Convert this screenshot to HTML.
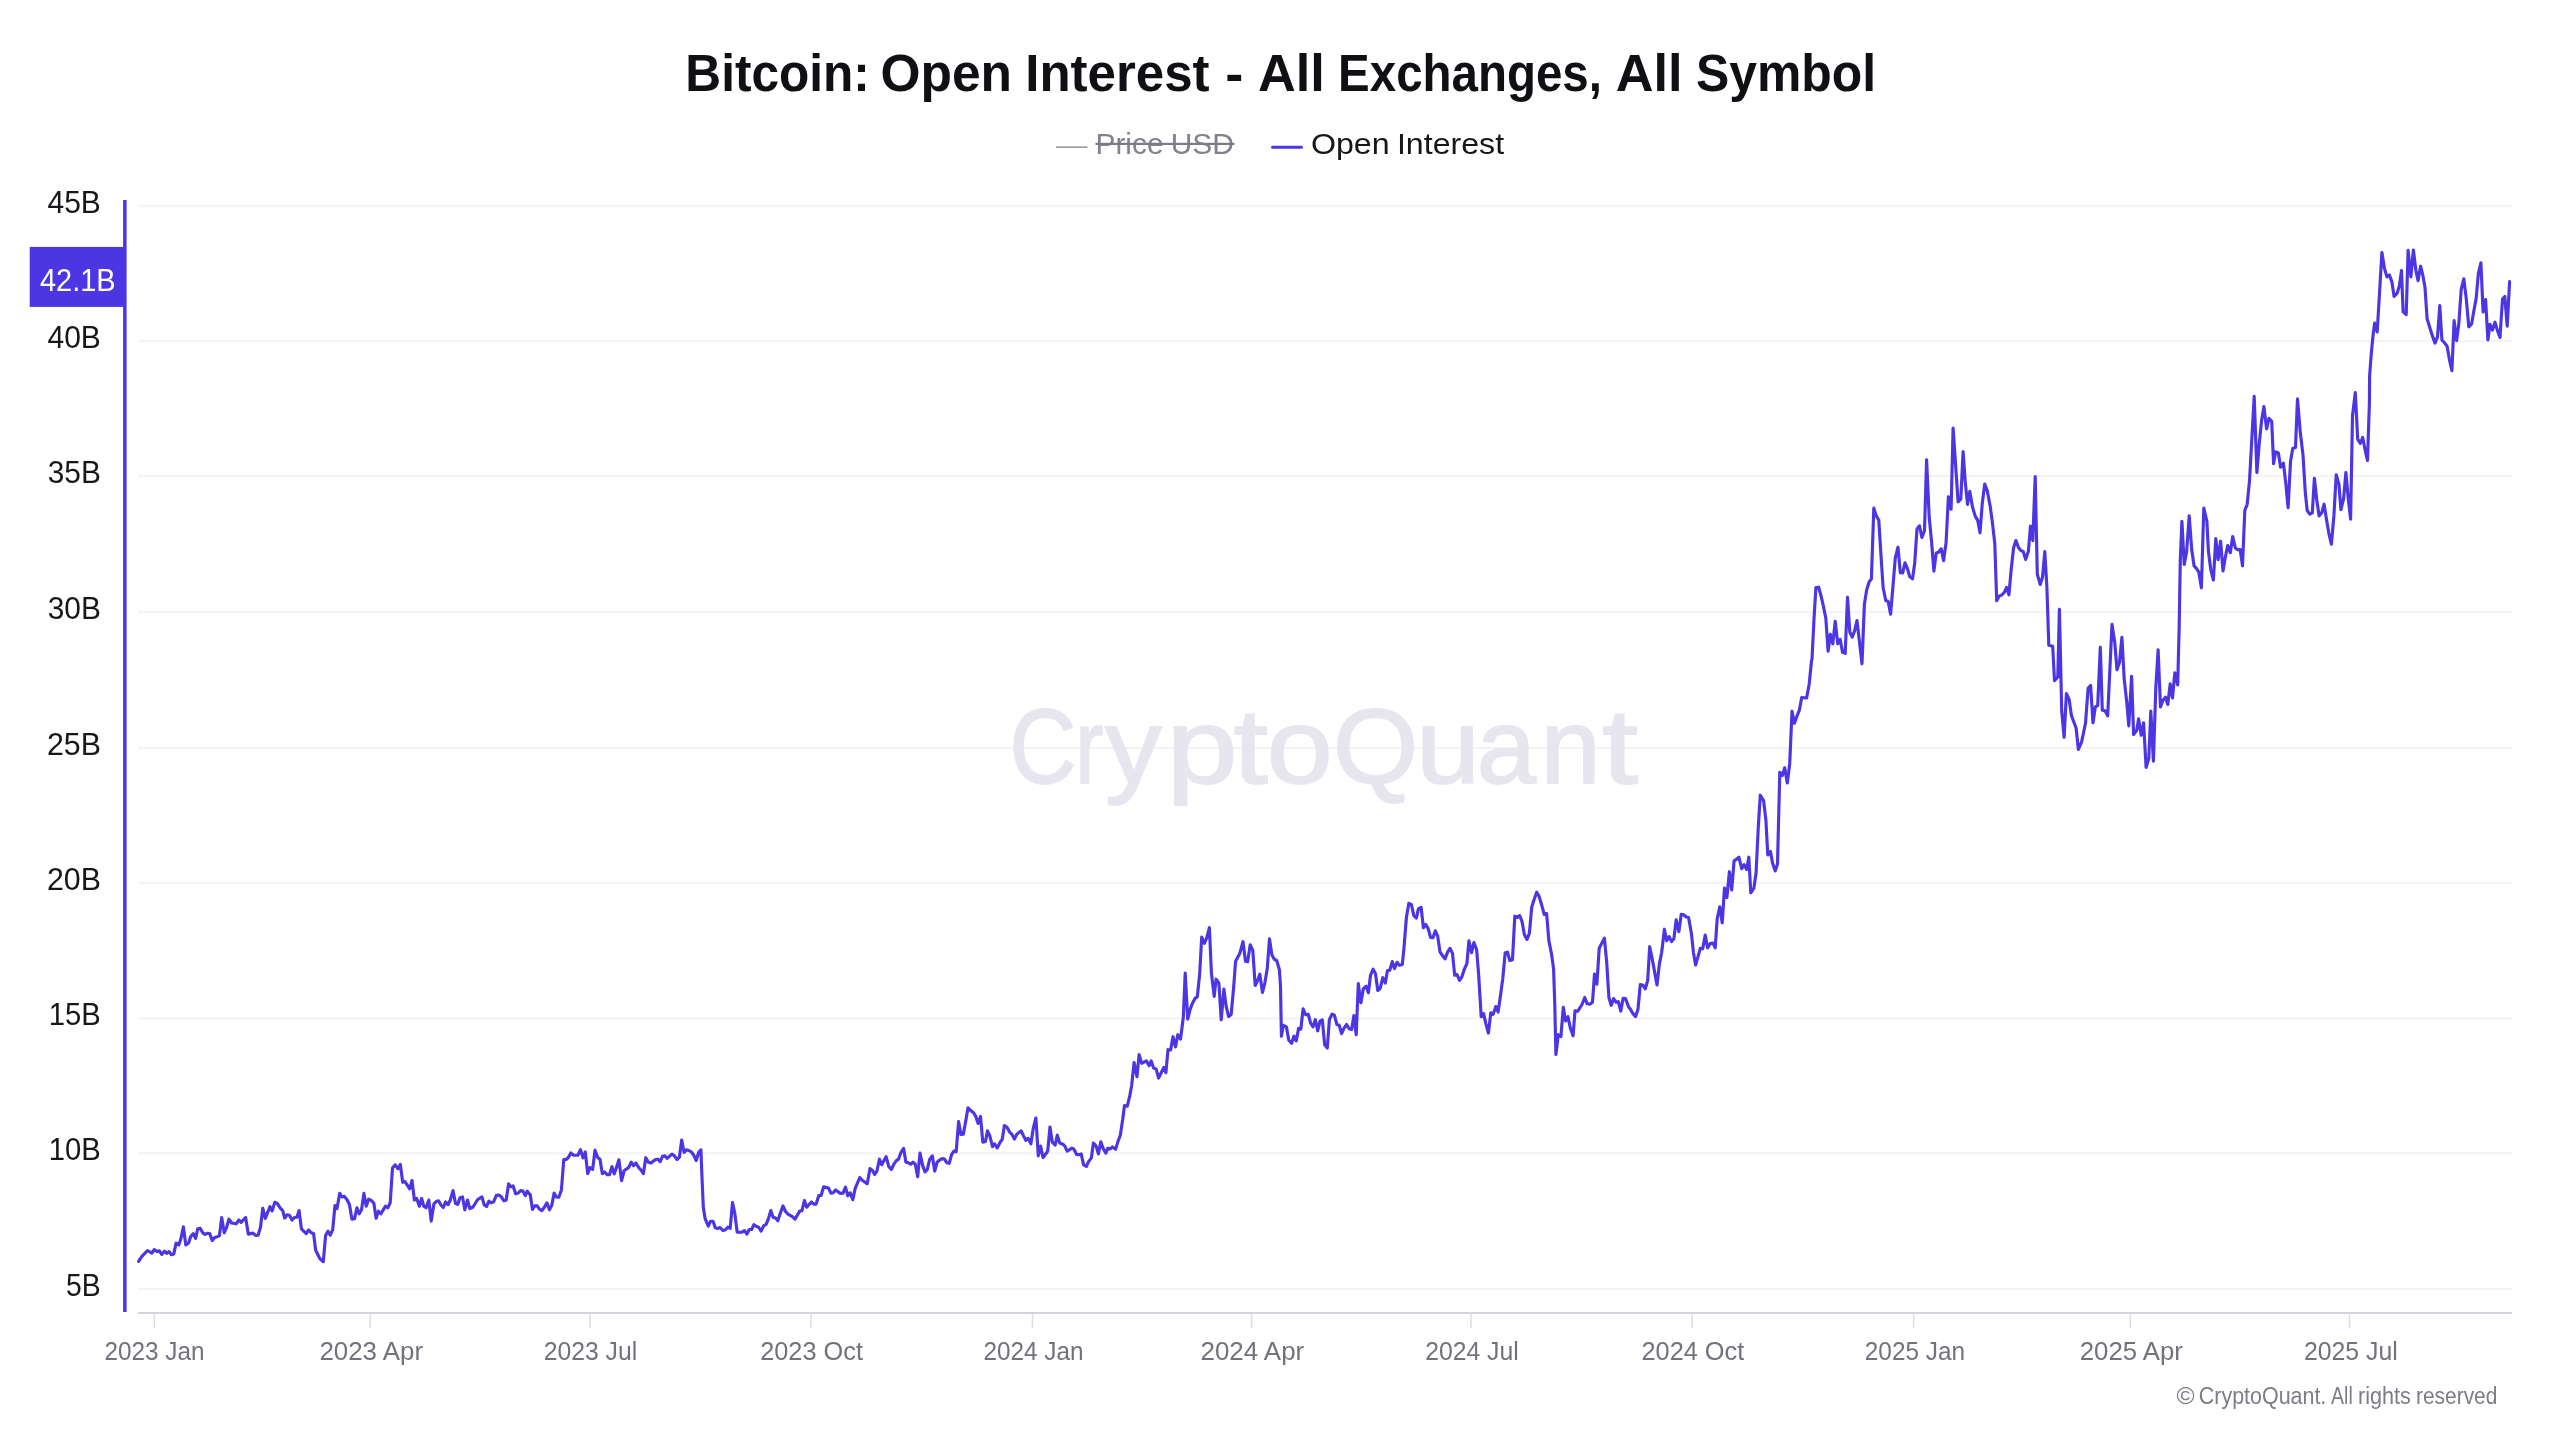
<!DOCTYPE html>
<html lang="en"><head><meta charset="utf-8"><title>Bitcoin: Open Interest - All Exchanges, All Symbol</title>
<style>html,body{margin:0;padding:0;background:#fff;}body{width:2560px;height:1440px;overflow:hidden;}svg{display:block;will-change:transform;}text{font-family:"Liberation Sans",sans-serif;}</style></head><body>
<svg width="2560" height="1440" viewBox="0 0 2560 1440">
<rect width="2560" height="1440" fill="#ffffff"/>
<rect x="138" y="204.80" width="2374" height="2" fill="#f3f3f7"/>
<rect x="138" y="340.30" width="2374" height="2" fill="#f3f3f7"/>
<rect x="138" y="475.00" width="2374" height="2" fill="#f3f3f7"/>
<rect x="138" y="611.00" width="2374" height="2" fill="#f3f3f7"/>
<rect x="138" y="747.00" width="2374" height="2" fill="#f3f3f7"/>
<rect x="138" y="881.70" width="2374" height="2" fill="#f3f3f7"/>
<rect x="138" y="1017.40" width="2374" height="2" fill="#f3f3f7"/>
<rect x="138" y="1152.30" width="2374" height="2" fill="#f3f3f7"/>
<rect x="138" y="1288.10" width="2374" height="2" fill="#f3f3f7"/>
<text y="782.5" font-size="106" fill="#e7e6ef" stroke="#e7e6ef" stroke-width="1.8" stroke-linejoin="round"><tspan x="1009.5" textLength="66.9" lengthAdjust="spacingAndGlyphs">C</tspan><tspan x="1075.3" textLength="28.2" lengthAdjust="spacingAndGlyphs">r</tspan><tspan x="1105.1" textLength="56.6" lengthAdjust="spacingAndGlyphs">y</tspan><tspan x="1166.6" textLength="71.1" lengthAdjust="spacingAndGlyphs">p</tspan><tspan x="1233.6" textLength="34.3" lengthAdjust="spacingAndGlyphs">t</tspan><tspan x="1266.7" textLength="66.0" lengthAdjust="spacingAndGlyphs">o</tspan><tspan x="1333.0" textLength="85.2" lengthAdjust="spacingAndGlyphs">Q</tspan><tspan x="1416.0" textLength="63.9" lengthAdjust="spacingAndGlyphs">u</tspan><tspan x="1476.8" textLength="59.1" lengthAdjust="spacingAndGlyphs">a</tspan><tspan x="1540.6" textLength="60.1" lengthAdjust="spacingAndGlyphs">n</tspan><tspan x="1602.2" textLength="35.8" lengthAdjust="spacingAndGlyphs">t</tspan></text>
<rect x="138" y="1312" width="2374" height="2" fill="#d3d2e1"/>
<rect x="153.60" y="1314" width="1.5" height="14" fill="#dcdce6"/>
<text x="154.54" y="1360.20" font-size="26.6" fill="#72727c" text-anchor="middle" textLength="100.11" lengthAdjust="spacingAndGlyphs">2023 Jan</text>
<rect x="369.40" y="1314" width="1.5" height="14" fill="#dcdce6"/>
<text x="371.24" y="1360.20" font-size="26.6" fill="#72727c" text-anchor="middle" textLength="103.66" lengthAdjust="spacingAndGlyphs">2023 Apr</text>
<rect x="589.20" y="1314" width="1.5" height="14" fill="#dcdce6"/>
<text x="590.46" y="1360.20" font-size="26.6" fill="#72727c" text-anchor="middle" textLength="93.59" lengthAdjust="spacingAndGlyphs">2023 Jul</text>
<rect x="810.20" y="1314" width="1.5" height="14" fill="#dcdce6"/>
<text x="811.56" y="1360.20" font-size="26.6" fill="#72727c" text-anchor="middle" textLength="102.74" lengthAdjust="spacingAndGlyphs">2023 Oct</text>
<rect x="1031.70" y="1314" width="1.5" height="14" fill="#dcdce6"/>
<text x="1033.44" y="1360.20" font-size="26.6" fill="#72727c" text-anchor="middle" textLength="100.11" lengthAdjust="spacingAndGlyphs">2024 Jan</text>
<rect x="1250.90" y="1314" width="1.5" height="14" fill="#dcdce6"/>
<text x="1252.34" y="1360.20" font-size="26.6" fill="#72727c" text-anchor="middle" textLength="103.66" lengthAdjust="spacingAndGlyphs">2024 Apr</text>
<rect x="1470.20" y="1314" width="1.5" height="14" fill="#dcdce6"/>
<text x="1471.96" y="1360.20" font-size="26.6" fill="#72727c" text-anchor="middle" textLength="93.59" lengthAdjust="spacingAndGlyphs">2024 Jul</text>
<rect x="1691.50" y="1314" width="1.5" height="14" fill="#dcdce6"/>
<text x="1692.86" y="1360.20" font-size="26.6" fill="#72727c" text-anchor="middle" textLength="102.74" lengthAdjust="spacingAndGlyphs">2024 Oct</text>
<rect x="1912.90" y="1314" width="1.5" height="14" fill="#dcdce6"/>
<text x="1914.94" y="1360.20" font-size="26.6" fill="#72727c" text-anchor="middle" textLength="100.21" lengthAdjust="spacingAndGlyphs">2025 Jan</text>
<rect x="2129.50" y="1314" width="1.5" height="14" fill="#dcdce6"/>
<text x="2131.34" y="1360.20" font-size="26.6" fill="#72727c" text-anchor="middle" textLength="103.16" lengthAdjust="spacingAndGlyphs">2025 Apr</text>
<rect x="2348.80" y="1314" width="1.5" height="14" fill="#dcdce6"/>
<text x="2350.86" y="1360.20" font-size="26.6" fill="#72727c" text-anchor="middle" textLength="93.79" lengthAdjust="spacingAndGlyphs">2025 Jul</text>
<rect x="123.1" y="200" width="3.5" height="1112" fill="#4c35e2"/>
<text x="100.86" y="212.80" font-size="32.1" fill="#17171b" text-anchor="end" textLength="53.40" lengthAdjust="spacingAndGlyphs">45B</text>
<text x="100.86" y="348.30" font-size="32.1" fill="#17171b" text-anchor="end" textLength="53.40" lengthAdjust="spacingAndGlyphs">40B</text>
<text x="100.88" y="483.00" font-size="32.1" fill="#17171b" text-anchor="end" textLength="53.12" lengthAdjust="spacingAndGlyphs">35B</text>
<text x="100.88" y="619.00" font-size="32.1" fill="#17171b" text-anchor="end" textLength="53.12" lengthAdjust="spacingAndGlyphs">30B</text>
<text x="100.88" y="755.00" font-size="32.1" fill="#17171b" text-anchor="end" textLength="53.96" lengthAdjust="spacingAndGlyphs">25B</text>
<text x="100.88" y="889.70" font-size="32.1" fill="#17171b" text-anchor="end" textLength="53.96" lengthAdjust="spacingAndGlyphs">20B</text>
<text x="100.79" y="1025.40" font-size="32.1" fill="#17171b" text-anchor="end" textLength="52.01" lengthAdjust="spacingAndGlyphs">15B</text>
<text x="100.64" y="1160.30" font-size="32.1" fill="#17171b" text-anchor="end" textLength="52.01" lengthAdjust="spacingAndGlyphs">10B</text>
<text x="100.67" y="1296.10" font-size="32.1" fill="#17171b" text-anchor="end" textLength="34.66" lengthAdjust="spacingAndGlyphs">5B</text>
<rect x="29.7" y="246.9" width="95" height="60" fill="#4c35e2"/>
<text x="77.80" y="290.60" font-size="32.1" fill="#ffffff" text-anchor="middle" textLength="75.60" lengthAdjust="spacingAndGlyphs">42.1B</text>
<text y="91.30" font-size="51" fill="#101014" font-weight="700"><tspan x="685.33" textLength="184.56" lengthAdjust="spacingAndGlyphs">Bitcoin:</tspan> <tspan x="880.48" textLength="131.50" lengthAdjust="spacingAndGlyphs">Open</tspan> <tspan x="1025.31" textLength="184.21" lengthAdjust="spacingAndGlyphs">Interest</tspan> <tspan x="1225.34" textLength="18.07" lengthAdjust="spacingAndGlyphs">-</tspan> <tspan x="1257.99" textLength="66.86" lengthAdjust="spacingAndGlyphs">All</tspan> <tspan x="1338.09" textLength="263.88" lengthAdjust="spacingAndGlyphs">Exchanges,</tspan> <tspan x="1615.65" textLength="66.78" lengthAdjust="spacingAndGlyphs">All</tspan> <tspan x="1695.94" textLength="180.07" lengthAdjust="spacingAndGlyphs">Symbol</tspan></text>
<rect x="1056" y="146.4" width="31.5" height="1.5" fill="#93939c"/>
<text y="154.30" font-size="29.8" fill="#82828c"><tspan x="1095.51" textLength="67.98" lengthAdjust="spacingAndGlyphs">Price</tspan> <tspan x="1170.67" textLength="63.29" lengthAdjust="spacingAndGlyphs">USD</tspan></text>
<rect x="1095.5" y="142.8" width="139" height="2.2" fill="#7b7b85"/>
<rect x="1271" y="145.7" width="32" height="3" rx="1.5" fill="#4c35e2"/>
<text y="154.30" font-size="29.8" fill="#17171b"><tspan x="1310.93" textLength="78.71" lengthAdjust="spacingAndGlyphs">Open</tspan> <tspan x="1396.92" textLength="107.21" lengthAdjust="spacingAndGlyphs">Interest</tspan></text>
<text y="1403.60" font-size="23.1" fill="#7c7c86"><tspan x="2176.57" textLength="18.13" lengthAdjust="spacingAndGlyphs">©</tspan> <tspan x="2198.81" textLength="127.54" lengthAdjust="spacingAndGlyphs">CryptoQuant.</tspan> <tspan x="2331.04" textLength="21.70" lengthAdjust="spacingAndGlyphs">All</tspan> <tspan x="2358.08" textLength="52.85" lengthAdjust="spacingAndGlyphs">rights</tspan> <tspan x="2415.97" textLength="81.44" lengthAdjust="spacingAndGlyphs">reserved</tspan></text>
<path d="M138.6,1261.4 L141.7,1256.7 L147.5,1250.5 L151.9,1253.1 L154.2,1249.7 L157.3,1251.6 L159.4,1250.8 L161.7,1254.4 L164.4,1251.2 L166.7,1253.4 L169.1,1251.6 L171.4,1254.7 L173.8,1253.9 L176.1,1243.0 L178.8,1245.0 L180.8,1239.1 L183.4,1226.9 L185.8,1245.0 L188.6,1243.0 L190.6,1236.7 L193.3,1233.6 L195.6,1238.3 L197.7,1228.9 L200.3,1228.4 L202.7,1232.8 L205.0,1234.4 L207.3,1233.3 L209.7,1233.6 L212.3,1240.6 L214.4,1237.8 L219.4,1235.9 L221.7,1217.5 L224.2,1232.8 L226.6,1227.3 L228.9,1219.2 L231.6,1223.0 L236.2,1223.8 L238.9,1220.0 L241.2,1222.3 L245.6,1217.5 L248.3,1234.1 L253.0,1233.1 L255.8,1235.5 L258.1,1235.2 L260.5,1227.3 L262.8,1208.3 L265.3,1218.4 L267.5,1212.8 L270.0,1206.7 L272.2,1210.9 L274.8,1202.3 L277.2,1203.4 L280.3,1208.1 L282.7,1210.6 L284.7,1218.0 L287.0,1214.8 L289.4,1215.2 L292.0,1220.0 L294.4,1217.5 L296.9,1217.2 L299.1,1210.6 L301.4,1228.9 L306.2,1233.6 L308.6,1230.0 L310.9,1232.5 L313.6,1233.6 L315.6,1250.0 L319.8,1258.6 L323.3,1261.7 L325.6,1235.6 L328.0,1231.2 L330.3,1235.2 L332.7,1229.7 L335.0,1205.5 L337.0,1208.6 L339.7,1193.3 L342.0,1196.9 L344.4,1196.4 L347.2,1200.0 L349.5,1204.7 L351.9,1219.1 L354.5,1218.8 L356.9,1207.8 L359.2,1213.8 L361.6,1209.4 L363.9,1193.4 L366.2,1206.2 L368.6,1199.2 L371.4,1200.5 L373.8,1203.1 L376.1,1218.3 L378.4,1211.2 L380.8,1213.8 L385.5,1206.2 L387.8,1207.8 L390.2,1202.8 L392.5,1168.0 L395.2,1164.8 L398.0,1168.8 L400.3,1164.4 L402.7,1182.3 L405.0,1181.6 L409.7,1188.8 L412.0,1180.5 L414.4,1200.0 L416.7,1198.4 L419.4,1206.2 L421.6,1198.4 L423.8,1206.2 L426.1,1207.8 L428.8,1200.0 L431.2,1221.1 L433.9,1203.9 L436.2,1201.6 L438.6,1200.8 L440.9,1205.0 L443.3,1207.5 L445.6,1201.9 L448.0,1204.7 L450.3,1200.0 L453.0,1190.6 L455.5,1203.4 L457.7,1204.4 L460.0,1197.7 L462.5,1196.9 L464.8,1209.8 L467.5,1200.0 L469.8,1208.6 L473.0,1207.0 L477.7,1199.5 L481.9,1196.9 L484.2,1204.7 L486.6,1206.6 L488.9,1201.2 L491.2,1202.8 L493.6,1201.9 L496.4,1195.3 L498.8,1195.0 L501.1,1196.6 L503.9,1200.8 L506.2,1200.0 L508.6,1183.9 L510.8,1186.7 L513.1,1185.9 L515.6,1193.8 L518.3,1193.0 L520.6,1190.6 L523.0,1191.1 L525.3,1195.6 L527.3,1191.1 L529.2,1193.8 L530.2,1194.4 L532.5,1209.5 L534.8,1205.9 L537.2,1205.9 L539.5,1209.1 L541.9,1210.6 L544.2,1207.5 L546.9,1202.8 L549.4,1209.8 L551.7,1205.6 L554.1,1193.1 L556.4,1197.0 L558.8,1197.3 L561.4,1190.0 L563.8,1159.5 L566.1,1159.5 L568.4,1157.5 L570.8,1153.0 L573.6,1155.2 L577.8,1155.2 L580.5,1149.7 L583.0,1158.0 L585.3,1152.0 L587.7,1173.6 L590.0,1167.7 L592.7,1169.4 L595.0,1150.2 L597.7,1157.5 L600.0,1159.2 L602.3,1173.6 L604.7,1172.0 L607.2,1174.7 L609.5,1174.7 L611.9,1166.6 L614.2,1173.9 L616.6,1166.9 L618.9,1159.8 L621.6,1180.6 L624.2,1170.5 L628.6,1167.7 L631.2,1162.2 L633.6,1165.8 L635.9,1163.0 L638.8,1167.7 L641.1,1170.2 L643.4,1173.6 L645.8,1157.7 L648.4,1162.3 L650.9,1163.1 L655.6,1159.5 L658.0,1159.2 L660.2,1161.6 L662.5,1156.4 L664.8,1155.9 L667.2,1158.3 L671.9,1154.1 L674.2,1155.6 L677.0,1159.5 L679.4,1157.2 L681.7,1140.0 L684.1,1152.5 L686.4,1149.8 L688.8,1150.5 L691.4,1152.0 L693.8,1155.2 L696.2,1160.6 L698.6,1152.5 L700.9,1149.8 L702.0,1177.5 L703.3,1207.2 L705.2,1218.9 L708.3,1226.2 L710.6,1221.2 L713.0,1221.2 L715.3,1227.8 L717.7,1228.6 L720.0,1227.5 L723.1,1230.6 L725.5,1229.8 L727.8,1227.2 L730.2,1228.3 L732.5,1202.5 L734.8,1213.4 L737.2,1232.2 L741.9,1232.2 L744.5,1230.6 L746.9,1234.1 L749.2,1229.5 L751.6,1229.5 L753.9,1224.7 L756.2,1226.2 L758.8,1227.5 L761.1,1231.1 L763.8,1225.6 L766.1,1224.4 L768.4,1218.9 L770.8,1210.6 L773.1,1217.3 L775.5,1218.1 L777.8,1220.8 L780.5,1212.7 L783.0,1205.9 L785.3,1211.1 L788.0,1214.2 L792.7,1216.9 L795.0,1219.2 L799.7,1211.1 L802.0,1210.6 L804.4,1200.5 L806.7,1207.2 L811.4,1202.0 L813.8,1204.1 L816.1,1204.1 L818.8,1195.5 L821.1,1195.5 L823.6,1186.9 L828.6,1188.1 L830.9,1193.1 L833.3,1192.8 L835.6,1190.0 L840.3,1193.4 L843.0,1193.1 L845.5,1187.2 L847.8,1195.8 L850.2,1192.8 L852.8,1199.7 L855.2,1188.4 L859.8,1177.5 L862.2,1180.2 L867.2,1183.8 L870.0,1168.6 L872.3,1170.2 L874.7,1174.4 L877.0,1170.8 L879.4,1159.2 L881.7,1164.7 L886.1,1156.7 L888.8,1166.6 L891.4,1169.4 L893.9,1164.2 L896.6,1160.3 L898.6,1159.1 L900.9,1152.5 L903.6,1148.3 L905.9,1162.2 L908.3,1162.7 L910.6,1164.2 L913.0,1162.2 L915.3,1164.2 L917.7,1176.7 L920.0,1153.1 L922.7,1165.6 L925.0,1171.9 L927.3,1169.5 L929.7,1159.4 L932.3,1155.8 L934.7,1171.1 L937.0,1162.5 L939.4,1160.2 L942.2,1158.6 L944.5,1159.1 L946.9,1162.8 L949.2,1163.3 L951.6,1154.7 L953.9,1151.1 L956.2,1151.6 L958.6,1121.6 L960.9,1134.4 L963.3,1134.1 L965.6,1121.9 L968.0,1107.8 L971.1,1110.9 L973.4,1112.5 L975.8,1116.4 L978.1,1123.4 L980.5,1116.4 L982.8,1142.2 L985.5,1141.4 L987.5,1130.9 L989.8,1135.9 L992.5,1146.6 L994.5,1143.8 L997.2,1148.0 L1000.0,1142.5 L1002.3,1139.1 L1004.4,1125.5 L1007.0,1127.3 L1009.8,1132.3 L1011.7,1134.1 L1014.4,1139.1 L1016.7,1134.4 L1021.1,1130.8 L1023.4,1135.6 L1025.8,1140.3 L1028.1,1138.3 L1030.9,1143.8 L1033.3,1128.1 L1035.9,1118.0 L1038.3,1155.9 L1040.6,1146.1 L1043.0,1157.5 L1047.7,1151.2 L1050.0,1127.0 L1052.3,1142.2 L1055.2,1145.0 L1057.3,1135.2 L1059.7,1143.0 L1063.3,1144.5 L1064.8,1146.1 L1067.2,1151.2 L1071.9,1148.1 L1073.9,1149.2 L1076.6,1154.4 L1078.9,1154.7 L1081.2,1153.9 L1083.6,1164.8 L1086.4,1166.4 L1088.6,1161.7 L1091.4,1157.8 L1093.4,1143.0 L1096.1,1146.1 L1098.4,1153.9 L1100.8,1141.9 L1103.1,1148.4 L1105.9,1153.1 L1107.8,1148.4 L1110.2,1148.9 L1112.5,1146.9 L1115.6,1149.2 L1118.0,1141.4 L1120.3,1135.2 L1122.7,1119.5 L1124.5,1105.5 L1127.3,1106.2 L1129.7,1096.1 L1131.7,1085.2 L1134.1,1062.5 L1137.0,1076.6 L1139.1,1054.7 L1141.7,1063.3 L1146.4,1060.9 L1149.2,1065.6 L1151.2,1060.9 L1153.6,1068.0 L1156.2,1069.1 L1158.6,1078.1 L1161.2,1072.7 L1163.8,1067.5 L1165.9,1072.7 L1168.0,1049.7 L1170.6,1050.0 L1173.0,1036.7 L1175.5,1046.9 L1177.8,1034.7 L1180.5,1039.1 L1181.7,1030.0 L1183.3,1017.5 L1185.2,973.0 L1187.7,1019.1 L1190.3,1008.9 L1192.7,1002.7 L1195.0,998.4 L1197.3,996.9 L1199.7,973.8 L1201.7,937.0 L1204.4,943.3 L1206.7,937.8 L1209.4,927.7 L1211.4,973.0 L1214.2,996.4 L1216.1,979.2 L1218.9,983.1 L1221.2,1019.8 L1223.9,989.1 L1226.2,1006.6 L1228.6,1016.4 L1231.2,1014.4 L1233.6,987.8 L1235.6,961.2 L1239.8,953.4 L1243.0,941.7 L1245.5,961.2 L1247.7,961.6 L1250.2,944.8 L1252.8,950.3 L1255.2,985.5 L1257.5,980.8 L1259.8,974.2 L1262.5,992.5 L1264.8,983.1 L1267.2,969.1 L1269.5,938.9 L1271.9,955.0 L1274.4,959.4 L1276.7,960.5 L1279.4,969.8 L1280.5,986.2 L1281.4,1036.2 L1283.3,1025.3 L1286.4,1026.9 L1288.8,1040.2 L1291.6,1043.3 L1293.9,1036.2 L1296.2,1040.9 L1298.6,1028.4 L1300.8,1029.2 L1303.1,1008.9 L1305.6,1014.7 L1308.3,1014.4 L1310.6,1023.0 L1313.0,1026.9 L1315.3,1019.5 L1317.7,1030.8 L1320.0,1021.1 L1322.3,1019.8 L1324.7,1044.8 L1327.3,1048.0 L1329.4,1019.5 L1332.0,1014.1 L1334.4,1015.2 L1336.9,1024.5 L1339.2,1025.3 L1341.6,1033.6 L1343.9,1028.4 L1346.6,1024.5 L1349.2,1028.8 L1351.6,1029.5 L1353.9,1015.6 L1356.2,1034.7 L1358.3,983.6 L1360.9,1002.7 L1363.4,988.6 L1366.1,986.2 L1368.4,992.8 L1370.5,975.3 L1373.1,969.1 L1375.5,973.8 L1377.8,990.5 L1380.2,988.3 L1382.8,977.7 L1385.3,983.1 L1387.5,970.6 L1389.8,970.3 L1392.2,961.6 L1394.5,968.6 L1397.0,962.3 L1399.4,965.2 L1402.3,964.4 L1403.9,948.8 L1406.4,917.5 L1408.8,903.4 L1411.4,904.5 L1413.8,915.6 L1416.4,918.0 L1418.4,908.9 L1421.1,907.3 L1423.4,927.7 L1425.8,924.5 L1428.1,928.4 L1430.6,937.5 L1433.0,937.8 L1435.3,930.8 L1437.7,936.2 L1440.0,951.9 L1442.7,955.8 L1445.0,958.9 L1447.7,951.9 L1450.0,948.3 L1452.5,953.4 L1454.7,975.3 L1457.0,974.5 L1459.5,980.3 L1461.9,976.9 L1464.2,969.5 L1466.9,963.6 L1468.9,940.9 L1471.6,952.7 L1473.9,942.5 L1476.6,949.5 L1478.6,973.8 L1481.2,1016.7 L1483.6,1013.6 L1485.9,1023.8 L1488.4,1033.1 L1490.8,1012.8 L1493.1,1014.4 L1495.8,1006.6 L1498.1,1012.0 L1500.5,995.6 L1502.8,978.4 L1505.2,952.7 L1507.5,952.2 L1509.8,960.5 L1512.5,959.7 L1514.8,916.2 L1517.2,917.5 L1519.7,915.6 L1522.0,921.4 L1524.4,934.7 L1527.0,939.4 L1529.4,933.1 L1531.7,907.3 L1534.1,899.5 L1536.7,892.2 L1539.1,896.4 L1541.9,905.8 L1544.2,914.4 L1546.6,913.6 L1548.9,940.9 L1551.7,955.0 L1553.6,969.1 L1554.8,1005.0 L1555.9,1054.5 L1558.3,1034.7 L1560.9,1036.6 L1563.3,1007.3 L1565.6,1020.9 L1568.0,1016.7 L1570.3,1028.0 L1573.1,1035.8 L1575.0,1010.8 L1577.8,1011.2 L1582.0,1004.5 L1584.7,997.5 L1587.2,1003.8 L1589.8,1004.1 L1592.5,1002.2 L1594.5,974.1 L1596.9,984.2 L1599.2,948.3 L1604.4,938.1 L1606.7,962.3 L1608.9,997.5 L1611.2,1005.3 L1613.6,998.6 L1615.9,1002.2 L1618.3,1001.7 L1620.8,1011.1 L1623.1,998.3 L1625.5,998.6 L1628.6,1006.9 L1630.5,1009.2 L1632.8,1013.4 L1635.6,1016.6 L1638.0,1009.2 L1640.3,984.5 L1643.0,985.3 L1645.3,988.9 L1647.7,980.3 L1649.7,946.7 L1652.0,957.7 L1657.0,985.0 L1659.4,963.9 L1661.7,952.2 L1664.4,929.2 L1666.7,940.8 L1669.1,936.6 L1671.6,941.6 L1673.9,938.6 L1676.2,919.8 L1678.9,931.6 L1681.2,914.4 L1683.6,914.7 L1686.2,917.0 L1688.6,917.5 L1691.4,933.4 L1693.4,952.2 L1695.6,965.0 L1698.0,956.6 L1700.3,948.3 L1702.7,948.8 L1705.2,935.0 L1707.5,947.8 L1710.2,943.6 L1713.0,943.1 L1715.2,947.8 L1717.2,918.6 L1719.8,906.9 L1722.2,922.8 L1724.5,888.1 L1726.9,897.5 L1729.4,871.7 L1731.7,890.0 L1734.1,860.8 L1736.6,859.2 L1738.9,857.2 L1741.7,868.6 L1744.1,864.7 L1746.7,869.4 L1748.8,857.2 L1750.8,892.8 L1753.9,888.1 L1756.1,872.5 L1758.4,824.8 L1760.3,795.2 L1763.6,800.6 L1765.9,820.2 L1767.8,855.0 L1770.5,851.4 L1772.5,863.1 L1775.2,870.9 L1777.5,863.9 L1779.8,772.2 L1782.3,775.6 L1784.7,767.8 L1787.3,783.0 L1789.7,763.9 L1792.0,711.2 L1794.4,723.3 L1797.2,715.5 L1799.4,710.0 L1801.7,697.5 L1806.6,698.0 L1809.2,684.2 L1811.6,660.0 L1812.0,659.4 L1814.1,617.2 L1815.9,587.5 L1818.6,587.2 L1820.9,595.3 L1823.4,606.2 L1825.8,618.0 L1828.1,651.2 L1830.3,634.4 L1832.8,643.8 L1835.2,621.4 L1837.8,643.8 L1840.2,639.5 L1842.5,652.3 L1845.2,653.4 L1847.5,597.2 L1849.8,632.0 L1852.2,637.2 L1854.5,631.2 L1857.0,620.6 L1859.4,641.4 L1862.0,663.8 L1864.4,603.9 L1866.7,589.8 L1869.1,582.0 L1871.4,578.9 L1873.8,508.1 L1876.1,515.6 L1878.8,520.3 L1880.8,552.3 L1883.1,587.5 L1885.8,600.8 L1888.1,601.2 L1890.6,614.1 L1893.0,585.9 L1895.3,557.8 L1898.0,547.2 L1900.3,572.7 L1902.7,573.0 L1905.0,562.8 L1907.3,568.3 L1909.7,576.6 L1912.5,578.9 L1914.7,563.3 L1917.0,528.9 L1919.5,525.8 L1921.9,537.5 L1924.5,530.8 L1926.6,459.7 L1929.2,517.2 L1931.6,542.2 L1933.9,571.1 L1936.2,553.1 L1938.6,552.3 L1941.2,548.8 L1943.6,560.6 L1946.1,542.2 L1948.4,496.9 L1951.1,509.1 L1953.1,428.1 L1958.1,501.9 L1960.8,499.2 L1963.1,451.6 L1965.2,481.2 L1967.5,504.4 L1969.8,491.4 L1972.5,507.0 L1975.3,516.4 L1977.7,520.3 L1980.0,532.8 L1982.3,503.1 L1984.7,484.1 L1987.3,490.9 L1990.2,506.2 L1992.5,523.4 L1994.8,543.8 L1996.7,600.8 L1999.2,596.1 L2001.9,594.8 L2004.2,592.5 L2006.6,587.5 L2008.9,594.8 L2011.2,569.5 L2013.6,547.7 L2015.9,540.6 L2018.6,547.7 L2021.1,550.8 L2023.3,551.6 L2025.6,559.4 L2028.4,551.2 L2030.5,526.1 L2032.8,540.6 L2035.2,476.6 L2037.3,574.2 L2040.2,584.4 L2042.5,577.3 L2044.8,551.6 L2046.9,587.5 L2048.8,645.2 L2052.7,646.2 L2054.5,680.6 L2057.8,677.2 L2059.4,609.2 L2061.7,710.8 L2064.1,737.3 L2066.4,693.6 L2069.1,699.1 L2071.4,715.5 L2076.1,728.0 L2078.4,749.5 L2081.6,742.0 L2085.5,723.3 L2088.1,688.4 L2090.6,685.5 L2093.0,722.8 L2095.3,706.9 L2097.7,705.6 L2100.3,647.2 L2102.3,710.3 L2105.0,710.8 L2107.7,715.8 L2112.0,624.4 L2114.8,642.8 L2117.0,669.8 L2119.5,662.3 L2121.9,637.3 L2124.2,678.8 L2126.6,700.6 L2128.8,725.9 L2131.6,676.4 L2133.6,734.5 L2136.7,730.3 L2138.6,718.9 L2141.2,735.3 L2143.6,722.8 L2146.1,767.5 L2148.8,758.4 L2150.8,711.1 L2153.4,761.2 L2155.8,688.1 L2158.1,649.8 L2160.5,706.9 L2162.8,700.6 L2165.5,697.2 L2167.8,704.5 L2170.2,683.9 L2172.5,698.0 L2174.8,672.8 L2177.7,685.0 L2179.2,625.6 L2180.3,560.0 L2181.9,521.4 L2184.2,564.4 L2186.6,551.9 L2189.2,515.9 L2191.7,549.5 L2194.1,565.9 L2196.4,568.3 L2198.8,572.2 L2201.4,587.8 L2203.8,508.1 L2206.9,521.4 L2208.4,551.1 L2210.8,569.8 L2213.4,580.0 L2215.8,538.6 L2218.1,559.7 L2220.6,541.2 L2223.0,570.9 L2225.3,557.3 L2227.7,545.6 L2230.3,552.7 L2232.7,536.6 L2235.3,548.0 L2237.7,549.8 L2240.2,549.5 L2242.5,565.9 L2244.8,510.5 L2247.2,504.2 L2249.5,480.8 L2251.9,437.8 L2254.2,396.4 L2256.9,472.5 L2259.2,444.1 L2261.6,420.6 L2263.9,406.6 L2266.6,428.8 L2268.9,418.3 L2271.7,421.4 L2273.6,463.6 L2275.6,451.9 L2278.3,452.7 L2280.6,467.2 L2283.4,463.1 L2285.8,483.1 L2288.1,507.7 L2290.5,461.6 L2292.8,448.3 L2295.5,447.5 L2297.5,398.8 L2300.2,431.6 L2303.0,455.0 L2305.3,492.5 L2307.2,510.5 L2309.7,514.1 L2312.3,512.8 L2314.4,478.4 L2316.7,499.5 L2319.1,515.9 L2321.7,512.8 L2324.1,504.2 L2326.4,519.1 L2328.8,533.1 L2331.4,544.1 L2333.9,515.9 L2336.2,474.8 L2338.9,483.9 L2340.9,509.7 L2343.6,498.8 L2345.9,472.5 L2348.3,498.8 L2350.6,519.1 L2352.5,415.9 L2355.3,392.5 L2357.7,439.1 L2360.3,443.3 L2362.7,437.5 L2365.2,450.3 L2367.5,460.5 L2369.4,403.4 L2369.6,376.2 L2371.2,354.4 L2373.1,335.0 L2374.6,323.1 L2377.2,331.9 L2379.4,295.0 L2381.9,252.5 L2384.4,268.1 L2386.9,276.9 L2389.4,275.0 L2391.9,281.9 L2394.1,296.5 L2397.2,293.1 L2399.4,285.6 L2401.5,270.6 L2403.1,311.9 L2406.2,314.6 L2408.1,250.4 L2410.9,276.9 L2413.4,250.0 L2415.9,270.6 L2418.1,280.6 L2420.6,266.2 L2422.9,275.6 L2425.0,287.5 L2427.1,318.8 L2429.4,326.2 L2431.9,334.4 L2435.0,343.1 L2437.5,336.9 L2439.8,305.6 L2441.9,340.0 L2444.4,342.8 L2447.1,346.2 L2449.4,359.4 L2451.9,370.6 L2454.1,320.6 L2456.6,340.6 L2458.8,323.8 L2461.2,289.4 L2463.8,278.8 L2466.2,298.1 L2468.8,326.9 L2471.6,324.0 L2473.8,311.2 L2476.2,298.1 L2478.4,273.1 L2480.9,262.9 L2483.1,311.9 L2485.6,299.6 L2487.9,340.0 L2490.0,324.4 L2492.5,330.0 L2495.0,322.2 L2497.5,330.6 L2500.0,337.5 L2502.5,299.0 L2504.8,296.5 L2507.2,326.2 L2509.6,281.6" fill="none" stroke="#4c35e2" stroke-width="3.15" stroke-linejoin="round" stroke-linecap="round"/>
</svg></body></html>
